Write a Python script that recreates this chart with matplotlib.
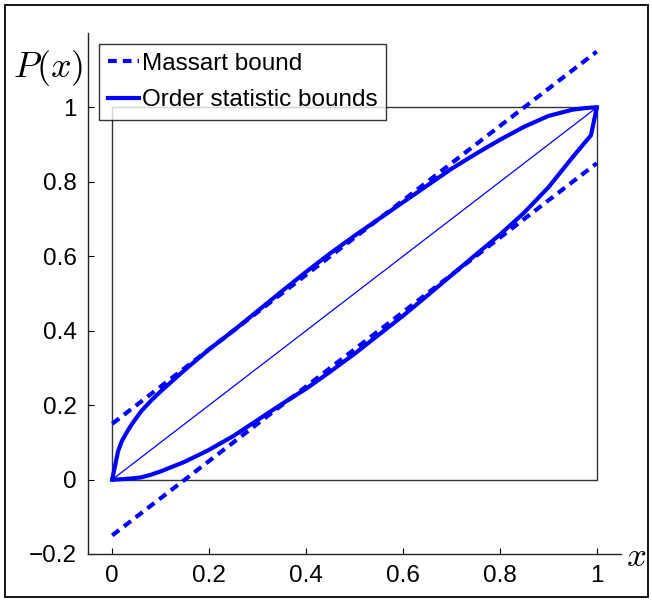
import matplotlib
matplotlib.use("Agg")
import matplotlib.pyplot as plt
from matplotlib.patches import Rectangle

plt.rcParams['font.family'] = ['Liberation Sans', 'DejaVu Sans']
plt.rcParams['mathtext.fontset'] = 'cm'
fs = 17.5

# Data
massart_eps = 0.15
massart_x = [0.0, 1.0]

os_x = [0.0, 0.012, 0.02, 0.03, 0.04, 0.06, 0.08, 0.1, 0.15, 0.2, 0.25, 0.3, 0.35, 0.4, 0.45,
        0.5, 0.55, 0.6, 0.65, 0.7, 0.75, 0.8, 0.85, 0.9, 0.95, 0.975, 0.988, 1.0]
os_upper = [0.0, 0.076, 0.104, 0.127, 0.148, 0.184, 0.212, 0.237, 0.295, 0.35, 0.40, 0.453, 0.506,
            0.558, 0.608, 0.655, 0.70, 0.745, 0.79, 0.835, 0.875, 0.913, 0.948,
            0.977, 0.994, 0.998, 0.9995, 1.0]
os_lower = [0.0, 0.0005, 0.001, 0.002, 0.003, 0.006, 0.013, 0.022, 0.048, 0.080, 0.117, 0.16, 0.203,
            0.244, 0.29, 0.338, 0.389, 0.44, 0.494, 0.549, 0.604, 0.658, 0.717,
            0.785, 0.866, 0.905, 0.925, 1.0]

xticks = [0, 0.2, 0.4, 0.6, 0.8, 1.0]
xticklabels = ['0', '0.2', '0.4', '0.6', '0.8', '1']
yticks = [-0.2, 0, 0.2, 0.4, 0.6, 0.8, 1.0]
yticklabels = ['\u22120.2', '0', '0.2', '0.4', '0.6', '0.8', '1']

fig = plt.figure(figsize=(6.52, 6.0), dpi=100)
W, H = 652, 600
ax = fig.add_axes([88 / W, 1 - 554 / H, (621 - 88) / W, (554 - 33) / H])
ax.set_xlim(-0.05, 1.05)
ax.set_ylim(-0.2, 1.2)

blue = '#0000ff'
dash = (0, (2.1, 1.45))
mu = [v + massart_eps for v in massart_x]
ml = [v - massart_eps for v in massart_x]
ax.plot(massart_x, mu, color=blue, lw=3, linestyle=dash, label='Massart bound')
ax.plot(massart_x, ml, color=blue, lw=3, linestyle=dash)
ax.plot(os_x, os_upper, color=blue, lw=3, label='Order statistic bounds')
ax.plot(os_x, os_lower, color=blue, lw=3)
ax.plot([0, 1], [0, 1], color=blue, lw=0.9)
ax.add_patch(Rectangle((0, 0), 1, 1, fill=False, edgecolor='#333333', lw=1.0))

for s in ['top', 'right']:
    ax.spines[s].set_visible(False)
for s in ['left', 'bottom']:
    ax.spines[s].set_linewidth(1.0)
    ax.spines[s].set_color('#222222')

ax.set_xticks(xticks)
ax.set_xticklabels(xticklabels)
ax.set_yticks(yticks)
ax.set_yticklabels(yticklabels)
ax.tick_params(direction='in', length=4, width=0.8, labelsize=fs, pad=8)

fig.text(48 / W, 1 - 68 / H, r'$P(x)$', fontsize=26, ha='center', va='center')
fig.text(636 / W, 1 - 556 / H, r'$x$', fontsize=25, ha='center', va='center')

leg = ax.legend(loc='upper left', bbox_to_anchor=(99 / W, 1 - 44 / H),
                bbox_transform=fig.transFigure, borderaxespad=0,
                fontsize=fs, frameon=True, fancybox=False, shadow=False,
                handlelength=1.3, handletextpad=0.1,
                borderpad=0.35, labelspacing=0.6)
leg.get_frame().set_edgecolor('black')
leg.get_frame().set_linewidth(1.0)

fig.patches.append(Rectangle((5 / W, 1 - 597 / H), 643 / W, 592 / H,
                             transform=fig.transFigure, fill=False,
                             edgecolor='black', lw=1.3))

fig.savefig('out.png', dpi=100)
